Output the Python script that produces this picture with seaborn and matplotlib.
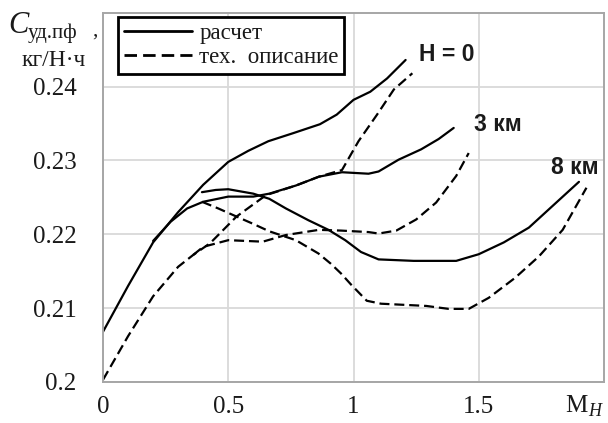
import numpy as np
import pandas as pd
import matplotlib
matplotlib.use("Agg")
import matplotlib.pyplot as plt
import seaborn as sns
from matplotlib.lines import Line2D

# ---- data ----
m_h0_calc = [0, 0.1, 0.2, 0.3, 0.4, 0.5, 0.58, 0.66, 0.76, 0.866, 0.933, 1.0, 1.067, 1.134, 1.208]
c_h0_calc = [0.2068, 0.2130, 0.2189, 0.2230, 0.2267, 0.2298, 0.2313, 0.2326, 0.2337, 0.2349, 0.2362, 0.2382, 0.2393, 0.2411, 0.2436]

m_h0_spec = [0, 0.1, 0.2, 0.3, 0.36, 0.428, 0.533, 0.651, 0.77, 0.862, 0.954, 1.02, 1.094, 1.161, 1.235]
c_h0_spec = [0.2003, 0.2062, 0.2116, 0.2156, 0.2172, 0.2188, 0.2224, 0.2253, 0.2266, 0.2278, 0.2287, 0.2326, 0.2362, 0.2396, 0.2418]

m_h3_calc = [0.2, 0.27, 0.336, 0.4, 0.5, 0.6, 0.664, 0.77, 0.862, 0.954, 1.06, 1.1, 1.18, 1.27, 1.34, 1.4]
c_h3_calc = [0.2191, 0.2217, 0.2235, 0.2244, 0.2251, 0.2251, 0.2255, 0.2266, 0.2278, 0.2284, 0.2282, 0.2285, 0.2301, 0.2315, 0.2329, 0.2344]

m_h3_spec = [0.36, 0.4, 0.5, 0.638, 0.73, 0.862, 0.95, 1.06, 1.1, 1.171, 1.25, 1.33, 1.41, 1.46]
c_h3_spec = [0.2172, 0.2183, 0.2192, 0.2190, 0.2199, 0.2206, 0.2205, 0.2203, 0.2201, 0.2205, 0.2220, 0.2243, 0.2279, 0.2310]

m_h8_calc = [0.395, 0.45, 0.5, 0.6, 0.664, 0.73, 0.82, 0.9, 0.967, 1.03, 1.1, 1.24, 1.41, 1.5, 1.6, 1.7, 1.8, 1.9]
c_h8_calc = [0.2257, 0.2260, 0.2261, 0.2255, 0.2248, 0.2235, 0.2219, 0.2206, 0.2192, 0.2176, 0.2166, 0.2164, 0.2164, 0.2173, 0.2189, 0.2209, 0.2240, 0.2271]

m_h8_spec = [0.395, 0.46, 0.533, 0.6, 0.664, 0.77, 0.86, 0.91, 0.95, 0.99, 1.053, 1.11, 1.17, 1.29, 1.38, 1.46, 1.54, 1.645, 1.74, 1.835, 1.93]
c_h8_spec = [0.2244, 0.2235, 0.2224, 0.2214, 0.2204, 0.2192, 0.2174, 0.2160, 0.2147, 0.2132, 0.2110, 0.2106, 0.2105, 0.2103, 0.2099, 0.2099, 0.2114, 0.2141, 0.2170, 0.2206, 0.2263]

src_calc = "расчет"
src_spec = "тех.  описание"
x_ticks = [0, 0.5, 1, 1.5]
x_tick_labels = ["0", "0.5", "1", "1.5"]
y_ticks = [0.2, 0.21, 0.22, 0.23, 0.24]
y_tick_labels = ["0.2", "0.21", "0.22", "0.23", "0.24"]
alt_labels = ["H = 0", "3 км", "8 км"]

series = [
    ("h0c", src_calc, m_h0_calc, c_h0_calc),
    ("h0s", src_spec, m_h0_spec, c_h0_spec),
    ("h3c", src_calc, m_h3_calc, c_h3_calc),
    ("h3s", src_spec, m_h3_spec, c_h3_spec),
    ("h8c", src_calc, m_h8_calc, c_h8_calc),
    ("h8s", src_spec, m_h8_spec, c_h8_spec),
]
rows = []
for cid, src, ms, cs in series:
    for i, (m, c) in enumerate(zip(ms, cs)):
        rows.append({"curve": cid, "source": src, "M": m, "C": c, "order": i})
df = pd.DataFrame(rows)

# ---- figure ----
sns.set_theme(style="whitegrid")
plt.rcParams['font.family'] = ['Liberation Serif', 'DejaVu Serif']

W, H = 608, 423
fig = plt.figure(figsize=(W / 100, H / 100), dpi=100)
ax = fig.add_axes([103 / W, 1 - 382 / H, (604 - 103) / W, (382 - 12.7) / H])

DASH = (4.5, 2.2)
sns.lineplot(data=df, x="M", y="C", units="curve", style="source",
             estimator=None, sort=False, color="black", linewidth=1.6,
             dashes={src_calc: "", src_spec: DASH}, legend=False, ax=ax)
for ln in ax.get_lines():
    ln.set_solid_joinstyle("round")
    ln.set_dash_joinstyle("round")

ax.set_xlim(0, 2)
ax.set_ylim(0.2, 0.25)
ax.set_xticks(x_ticks)
ax.set_xticklabels(x_tick_labels)
ax.set_yticks(y_ticks)
ax.set_yticklabels(y_tick_labels)
ax.set_xlabel("")
ax.set_ylabel("")
ax.grid(True, color="#d9d9d9", linewidth=1.3)
for s in ax.spines.values():
    s.set_visible(True)
    s.set_color("#a6a6a6")
    s.set_linewidth(1.4)
ax.tick_params(axis="both", direction="out", length=7, width=1.3,
               color="#a6a6a6", labelsize=18, labelcolor="#1a1a1a")
ax.tick_params(axis="y", pad=12)
ax.tick_params(axis="x", pad=3)

# legend
handles = [Line2D([], [], color="black", lw=2.0),
           Line2D([], [], color="black", lw=2.0, dashes=DASH)]
leg = ax.legend(handles, [src_calc, src_spec], loc="upper left",
                bbox_to_anchor=(118 / W, 1 - 17 / H), bbox_transform=fig.transFigure,
                borderaxespad=0, fontsize=16.5, handlelength=3.0, handletextpad=0.3,
                labelspacing=0.15, borderpad=0.25, fancybox=False, framealpha=1)
leg.get_frame().set_edgecolor("black")
leg.get_frame().set_linewidth(2.0)
for t in leg.get_texts():
    t.set_color("#1a1a1a")

# altitude labels
sans_bold = dict(family=["Liberation Sans", "DejaVu Sans"], fontweight="bold",
                 fontsize=16.5, color="#1a1a1a", va="center", ha="left")
ax.text(1.261, 0.2443, alt_labels[0], **sans_bold)
ax.text(1.481, 0.2348, alt_labels[1], **sans_bold)
ax.text(1.788, 0.2291, alt_labels[2], **sans_bold)

# y label (top-left)
def fx(x): return x / W
def fy(y): return 1 - y / H

fig.text(fx(8), fy(33), "C", fontsize=22, style="italic", va="baseline", ha="left", color="#1a1a1a")
fig.text(fx(28), fy(38), "уд.пф", fontsize=15, va="baseline", ha="left", color="#1a1a1a")
fig.text(fx(92), fy(36), ",", fontsize=15, va="baseline", ha="left", color="#1a1a1a")
fig.text(fx(54), fy(66), "кг/Н·ч", fontsize=17, va="baseline", ha="center", color="#1a1a1a")

# x label (bottom-right)
fig.text(fx(565), fy(412), "M", fontsize=18, va="baseline", ha="left", color="#1a1a1a")
fig.text(fx(588), fy(416), "H", fontsize=13, style="italic", va="baseline", ha="left", color="#1a1a1a")

fig.savefig("out.png", dpi=100)
